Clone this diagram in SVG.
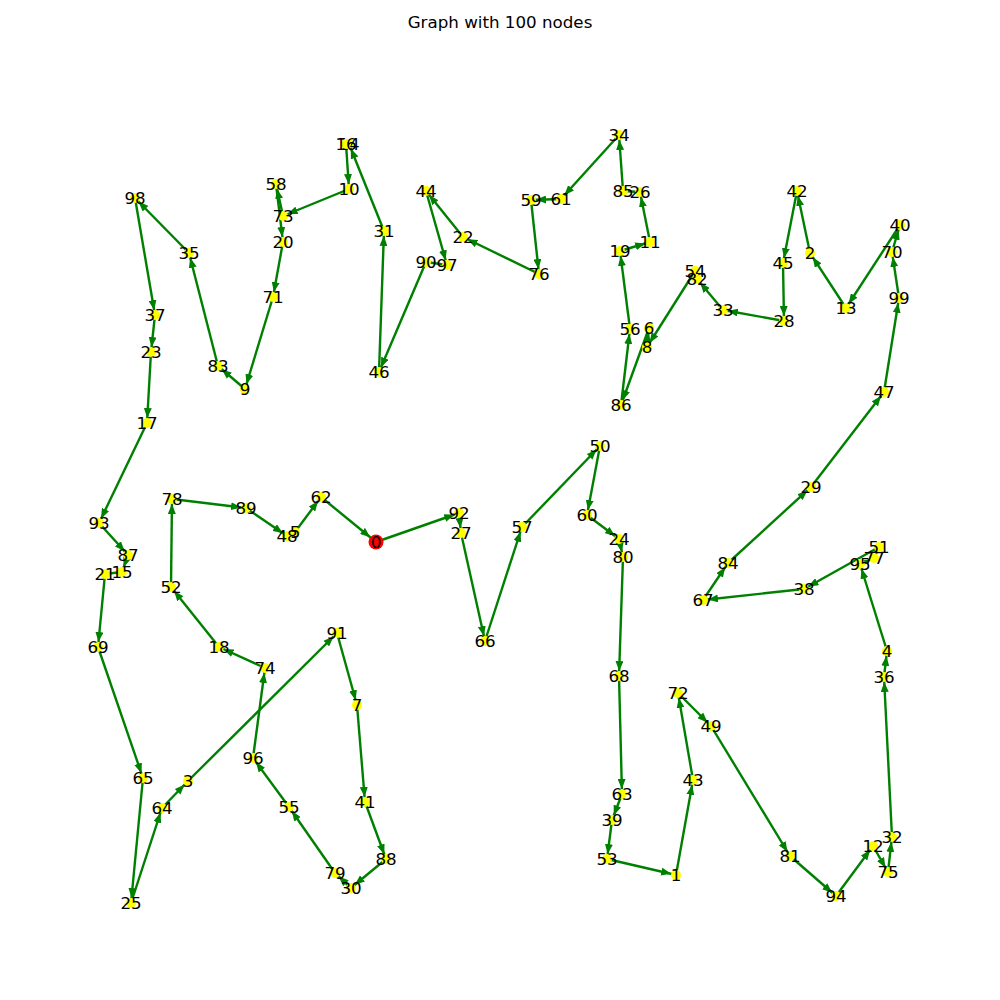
<svg xmlns="http://www.w3.org/2000/svg" width="1000" height="1000" viewBox="0 0 1000 1000">
<style>
.e line{stroke:#008000;stroke-width:2.4;marker-end:url(#a)}
.e line.n{marker-end:none}
.e line.r{marker-end:url(#ar)}
.nd circle{fill:#ffff00}
.nd circle.red{fill:#ff0000}
.nd text{font-family:"DejaVu Sans",sans-serif;font-size:16.7px;text-anchor:middle;fill:#000}
.t{font-family:"DejaVu Sans",sans-serif;font-size:16.7px;text-anchor:middle;fill:#000}
</style>
<defs>
<marker id="a" markerUnits="userSpaceOnUse" viewBox="0 0 16 8" markerWidth="16" markerHeight="8" refX="15" refY="4" orient="auto"><path d="M0,0 L10,4 L0,8 z" fill="#008000"/></marker>
<marker id="ar" markerUnits="userSpaceOnUse" viewBox="0 0 18 8" markerWidth="18" markerHeight="8" refX="17.5" refY="4" orient="auto"><path d="M0,0 L10,4 L0,8 z" fill="#008000"/></marker>
</defs>
<rect width="1000" height="1000" fill="#fff"/>
<text class="t" x="500" y="28">Graph with 100 nodes</text>
<g id="edges" class="e">
<line x1="376" y1="542" x2="459" y2="513"/>
<line x1="459" y1="513" x2="461" y2="533"/>
<line x1="461" y1="533" x2="485" y2="641"/>
<line x1="485" y1="641" x2="522" y2="527"/>
<line x1="522" y1="527" x2="600" y2="446"/>
<line x1="600" y1="446" x2="587" y2="515"/>
<line x1="587" y1="515" x2="619" y2="539"/>
<line x1="619" y1="539" x2="623" y2="557"/>
<line x1="623" y1="557" x2="619" y2="676"/>
<line x1="619" y1="676" x2="622" y2="794"/>
<line x1="622" y1="794" x2="612" y2="820"/>
<line x1="612" y1="820" x2="607" y2="859"/>
<line x1="607" y1="859" x2="676" y2="875"/>
<line x1="676" y1="875" x2="693" y2="780"/>
<line x1="693" y1="780" x2="678" y2="693"/>
<line x1="678" y1="693" x2="711" y2="726"/>
<line x1="711" y1="726" x2="790" y2="856"/>
<line x1="790" y1="856" x2="836" y2="896"/>
<line x1="836" y1="896" x2="873" y2="846"/>
<line x1="873" y1="846" x2="888" y2="872"/>
<line x1="888" y1="872" x2="892" y2="837"/>
<line x1="892" y1="837" x2="884" y2="677"/>
<line x1="884" y1="677" x2="887" y2="651"/>
<line x1="887" y1="651" x2="860" y2="564"/>
<line x1="860" y1="564" x2="874" y2="558"/>
<line class="n" x1="874" y1="558" x2="879" y2="547"/>
<line x1="879" y1="547" x2="804" y2="589"/>
<line x1="804" y1="589" x2="703" y2="600"/>
<line x1="703" y1="600" x2="728" y2="563"/>
<line x1="728" y1="563" x2="811" y2="487"/>
<line x1="811" y1="487" x2="884" y2="392"/>
<line x1="884" y1="392" x2="899" y2="298"/>
<line x1="899" y1="298" x2="892" y2="252"/>
<line x1="892" y1="252" x2="900" y2="225"/>
<line x1="900" y1="225" x2="846" y2="308"/>
<line x1="846" y1="308" x2="810" y2="253"/>
<line x1="810" y1="253" x2="797" y2="191"/>
<line x1="797" y1="191" x2="783" y2="263"/>
<line x1="783" y1="263" x2="784" y2="321"/>
<line x1="784" y1="321" x2="723" y2="310"/>
<line x1="723" y1="310" x2="697" y2="279"/>
<line class="n" x1="697" y1="279" x2="695" y2="271"/>
<line x1="695" y1="271" x2="647" y2="347"/>
<line x1="647" y1="347" x2="649" y2="328"/>
<line x1="649" y1="328" x2="621" y2="405"/>
<line x1="621" y1="405" x2="630" y2="329"/>
<line x1="630" y1="329" x2="620" y2="251"/>
<line x1="620" y1="251" x2="650" y2="242"/>
<line x1="650" y1="242" x2="640" y2="192"/>
<line class="n" x1="640" y1="192" x2="623" y2="191"/>
<line x1="623" y1="191" x2="619" y2="135"/>
<line x1="619" y1="135" x2="561" y2="199"/>
<line x1="561" y1="199" x2="531" y2="200"/>
<line x1="531" y1="200" x2="539" y2="274"/>
<line x1="539" y1="274" x2="463" y2="237"/>
<line x1="463" y1="237" x2="426" y2="191"/>
<line x1="426" y1="191" x2="447" y2="265"/>
<line class="n" x1="447" y1="265" x2="426" y2="262"/>
<line x1="426" y1="262" x2="379" y2="372"/>
<line x1="379" y1="372" x2="384" y2="231"/>
<line x1="384" y1="231" x2="349" y2="144"/>
<line class="n" x1="349" y1="144" x2="346" y2="144"/>
<line x1="346" y1="144" x2="349" y2="189"/>
<line x1="349" y1="189" x2="283" y2="216"/>
<line x1="283" y1="216" x2="276" y2="184"/>
<line x1="276" y1="184" x2="283" y2="242"/>
<line x1="283" y1="242" x2="273" y2="297"/>
<line x1="273" y1="297" x2="245" y2="389"/>
<line x1="245" y1="389" x2="218" y2="366"/>
<line x1="218" y1="366" x2="189" y2="253"/>
<line x1="189" y1="253" x2="135" y2="198"/>
<line x1="135" y1="198" x2="155" y2="315"/>
<line x1="155" y1="315" x2="151" y2="352"/>
<line x1="151" y1="352" x2="147" y2="423"/>
<line x1="147" y1="423" x2="99" y2="523"/>
<line x1="99" y1="523" x2="128" y2="555"/>
<line x1="128" y1="555" x2="122" y2="572"/>
<line class="n" x1="122" y1="572" x2="105" y2="574"/>
<line x1="105" y1="574" x2="98" y2="647"/>
<line x1="98" y1="647" x2="143" y2="778"/>
<line x1="143" y1="778" x2="131" y2="903"/>
<line x1="131" y1="903" x2="162" y2="808"/>
<line x1="162" y1="808" x2="188" y2="781"/>
<line x1="188" y1="781" x2="337" y2="633"/>
<line x1="337" y1="633" x2="357" y2="705"/>
<line x1="357" y1="705" x2="365" y2="802"/>
<line x1="365" y1="802" x2="386" y2="859"/>
<line x1="386" y1="859" x2="351" y2="888"/>
<line x1="351" y1="888" x2="335" y2="873"/>
<line x1="335" y1="873" x2="289" y2="807"/>
<line x1="289" y1="807" x2="253" y2="758"/>
<line x1="253" y1="758" x2="265" y2="668"/>
<line x1="265" y1="668" x2="219" y2="647"/>
<line x1="219" y1="647" x2="171" y2="587"/>
<line x1="171" y1="587" x2="172" y2="499"/>
<line x1="172" y1="499" x2="246" y2="508"/>
<line x1="246" y1="508" x2="287" y2="536"/>
<line class="n" x1="287" y1="536" x2="295" y2="532"/>
<line x1="295" y1="532" x2="321" y2="497"/>
<line class="r" x1="321" y1="497" x2="376" y2="542"/>
</g>
<g class="nd">
<g id="n0"><circle class="red" cx="376" cy="542" r="7.5"/><text x="376" y="548">0</text></g>
<g id="n1"><circle cx="676" cy="875" r="5"/><text x="676" y="881">1</text></g>
<g id="n2"><circle cx="810" cy="253" r="5"/><text x="810" y="259">2</text></g>
<g id="n3"><circle cx="188" cy="781" r="5"/><text x="188" y="787">3</text></g>
<g id="n4"><circle cx="887" cy="651" r="5"/><text x="887" y="657">4</text></g>
<g id="n5"><circle cx="295" cy="532" r="5"/><text x="295" y="538">5</text></g>
<g id="n6"><circle cx="649" cy="328" r="5"/><text x="649" y="334">6</text></g>
<g id="n7"><circle cx="357" cy="705" r="5"/><text x="357" y="711">7</text></g>
<g id="n8"><circle cx="647" cy="347" r="5"/><text x="647" y="353">8</text></g>
<g id="n9"><circle cx="245" cy="389" r="5"/><text x="245" y="395">9</text></g>
<g id="n10"><circle cx="349" cy="189" r="5"/><text x="349" y="195">10</text></g>
<g id="n11"><circle cx="650" cy="242" r="5"/><text x="650" y="248">11</text></g>
<g id="n12"><circle cx="873" cy="846" r="5"/><text x="873" y="852">12</text></g>
<g id="n13"><circle cx="846" cy="308" r="5"/><text x="846" y="314">13</text></g>
<g id="n14"><circle cx="349" cy="144" r="5"/><text x="349" y="150">14</text></g>
<g id="n15"><circle cx="122" cy="572" r="5"/><text x="122" y="578">15</text></g>
<g id="n16"><circle cx="346" cy="144" r="5"/><text x="346" y="150">16</text></g>
<g id="n17"><circle cx="147" cy="423" r="5"/><text x="147" y="429">17</text></g>
<g id="n18"><circle cx="219" cy="647" r="5"/><text x="219" y="653">18</text></g>
<g id="n19"><circle cx="620" cy="251" r="5"/><text x="620" y="257">19</text></g>
<g id="n20"><circle cx="283" cy="242" r="5"/><text x="283" y="248">20</text></g>
<g id="n21"><circle cx="105" cy="574" r="5"/><text x="105" y="580">21</text></g>
<g id="n22"><circle cx="463" cy="237" r="5"/><text x="463" y="243">22</text></g>
<g id="n23"><circle cx="151" cy="352" r="5"/><text x="151" y="358">23</text></g>
<g id="n24"><circle cx="619" cy="539" r="5"/><text x="619" y="545">24</text></g>
<g id="n25"><circle cx="131" cy="903" r="5"/><text x="131" y="909">25</text></g>
<g id="n26"><circle cx="640" cy="192" r="5"/><text x="640" y="198">26</text></g>
<g id="n27"><circle cx="461" cy="533" r="5"/><text x="461" y="539">27</text></g>
<g id="n28"><circle cx="784" cy="321" r="5"/><text x="784" y="327">28</text></g>
<g id="n29"><circle cx="811" cy="487" r="5"/><text x="811" y="493">29</text></g>
<g id="n30"><circle cx="351" cy="888" r="5"/><text x="351" y="894">30</text></g>
<g id="n31"><circle cx="384" cy="231" r="5"/><text x="384" y="237">31</text></g>
<g id="n32"><circle cx="892" cy="837" r="5"/><text x="892" y="843">32</text></g>
<g id="n33"><circle cx="723" cy="310" r="5"/><text x="723" y="316">33</text></g>
<g id="n34"><circle cx="619" cy="135" r="5"/><text x="619" y="141">34</text></g>
<g id="n35"><circle cx="189" cy="253" r="5"/><text x="189" y="259">35</text></g>
<g id="n36"><circle cx="884" cy="677" r="5"/><text x="884" y="683">36</text></g>
<g id="n37"><circle cx="155" cy="315" r="5"/><text x="155" y="321">37</text></g>
<g id="n38"><circle cx="804" cy="589" r="5"/><text x="804" y="595">38</text></g>
<g id="n39"><circle cx="612" cy="820" r="5"/><text x="612" y="826">39</text></g>
<g id="n40"><circle cx="900" cy="225" r="5"/><text x="900" y="231">40</text></g>
<g id="n41"><circle cx="365" cy="802" r="5"/><text x="365" y="808">41</text></g>
<g id="n42"><circle cx="797" cy="191" r="5"/><text x="797" y="197">42</text></g>
<g id="n43"><circle cx="693" cy="780" r="5"/><text x="693" y="786">43</text></g>
<g id="n44"><circle cx="426" cy="191" r="5"/><text x="426" y="197">44</text></g>
<g id="n45"><circle cx="783" cy="263" r="5"/><text x="783" y="269">45</text></g>
<g id="n46"><circle cx="379" cy="372" r="5"/><text x="379" y="378">46</text></g>
<g id="n47"><circle cx="884" cy="392" r="5"/><text x="884" y="398">47</text></g>
<g id="n48"><circle cx="287" cy="536" r="5"/><text x="287" y="542">48</text></g>
<g id="n49"><circle cx="711" cy="726" r="5"/><text x="711" y="732">49</text></g>
<g id="n50"><circle cx="600" cy="446" r="5"/><text x="600" y="452">50</text></g>
<g id="n51"><circle cx="879" cy="547" r="5"/><text x="879" y="553">51</text></g>
<g id="n52"><circle cx="171" cy="587" r="5"/><text x="171" y="593">52</text></g>
<g id="n53"><circle cx="607" cy="859" r="5"/><text x="607" y="865">53</text></g>
<g id="n54"><circle cx="695" cy="271" r="5"/><text x="695" y="277">54</text></g>
<g id="n55"><circle cx="289" cy="807" r="5"/><text x="289" y="813">55</text></g>
<g id="n56"><circle cx="630" cy="329" r="5"/><text x="630" y="335">56</text></g>
<g id="n57"><circle cx="522" cy="527" r="5"/><text x="522" y="533">57</text></g>
<g id="n58"><circle cx="276" cy="184" r="5"/><text x="276" y="190">58</text></g>
<g id="n59"><circle cx="531" cy="200" r="5"/><text x="531" y="206">59</text></g>
<g id="n60"><circle cx="587" cy="515" r="5"/><text x="587" y="521">60</text></g>
<g id="n61"><circle cx="561" cy="199" r="5"/><text x="561" y="205">61</text></g>
<g id="n62"><circle cx="321" cy="497" r="5"/><text x="321" y="503">62</text></g>
<g id="n63"><circle cx="622" cy="794" r="5"/><text x="622" y="800">63</text></g>
<g id="n64"><circle cx="162" cy="808" r="5"/><text x="162" y="814">64</text></g>
<g id="n65"><circle cx="143" cy="778" r="5"/><text x="143" y="784">65</text></g>
<g id="n66"><circle cx="485" cy="641" r="5"/><text x="485" y="647">66</text></g>
<g id="n67"><circle cx="703" cy="600" r="5"/><text x="703" y="606">67</text></g>
<g id="n68"><circle cx="619" cy="676" r="5"/><text x="619" y="682">68</text></g>
<g id="n69"><circle cx="98" cy="647" r="5"/><text x="98" y="653">69</text></g>
<g id="n70"><circle cx="892" cy="252" r="5"/><text x="892" y="258">70</text></g>
<g id="n71"><circle cx="273" cy="297" r="5"/><text x="273" y="303">71</text></g>
<g id="n72"><circle cx="678" cy="693" r="5"/><text x="678" y="699">72</text></g>
<g id="n73"><circle cx="283" cy="216" r="5"/><text x="283" y="222">73</text></g>
<g id="n74"><circle cx="265" cy="668" r="5"/><text x="265" y="674">74</text></g>
<g id="n75"><circle cx="888" cy="872" r="5"/><text x="888" y="878">75</text></g>
<g id="n76"><circle cx="539" cy="274" r="5"/><text x="539" y="280">76</text></g>
<g id="n77"><circle cx="874" cy="558" r="5"/><text x="874" y="564">77</text></g>
<g id="n78"><circle cx="172" cy="499" r="5"/><text x="172" y="505">78</text></g>
<g id="n79"><circle cx="335" cy="873" r="5"/><text x="335" y="879">79</text></g>
<g id="n80"><circle cx="623" cy="557" r="5"/><text x="623" y="563">80</text></g>
<g id="n81"><circle cx="790" cy="856" r="5"/><text x="790" y="862">81</text></g>
<g id="n82"><circle cx="697" cy="279" r="5"/><text x="697" y="285">82</text></g>
<g id="n83"><circle cx="218" cy="366" r="5"/><text x="218" y="372">83</text></g>
<g id="n84"><circle cx="728" cy="563" r="5"/><text x="728" y="569">84</text></g>
<g id="n85"><circle cx="623" cy="191" r="5"/><text x="623" y="197">85</text></g>
<g id="n86"><circle cx="621" cy="405" r="5"/><text x="621" y="411">86</text></g>
<g id="n87"><circle cx="128" cy="555" r="5"/><text x="128" y="561">87</text></g>
<g id="n88"><circle cx="386" cy="859" r="5"/><text x="386" y="865">88</text></g>
<g id="n89"><circle cx="246" cy="508" r="5"/><text x="246" y="514">89</text></g>
<g id="n90"><circle cx="426" cy="262" r="5"/><text x="426" y="268">90</text></g>
<g id="n91"><circle cx="337" cy="633" r="5"/><text x="337" y="639">91</text></g>
<g id="n92"><circle cx="459" cy="513" r="5"/><text x="459" y="519">92</text></g>
<g id="n93"><circle cx="99" cy="523" r="5"/><text x="99" y="529">93</text></g>
<g id="n94"><circle cx="836" cy="896" r="5"/><text x="836" y="902">94</text></g>
<g id="n95"><circle cx="860" cy="564" r="5"/><text x="860" y="570">95</text></g>
<g id="n96"><circle cx="253" cy="758" r="5"/><text x="253" y="764">96</text></g>
<g id="n97"><circle cx="447" cy="265" r="5"/><text x="447" y="271">97</text></g>
<g id="n98"><circle cx="135" cy="198" r="5"/><text x="135" y="204">98</text></g>
<g id="n99"><circle cx="899" cy="298" r="5"/><text x="899" y="304">99</text></g>
</g>
</svg>
